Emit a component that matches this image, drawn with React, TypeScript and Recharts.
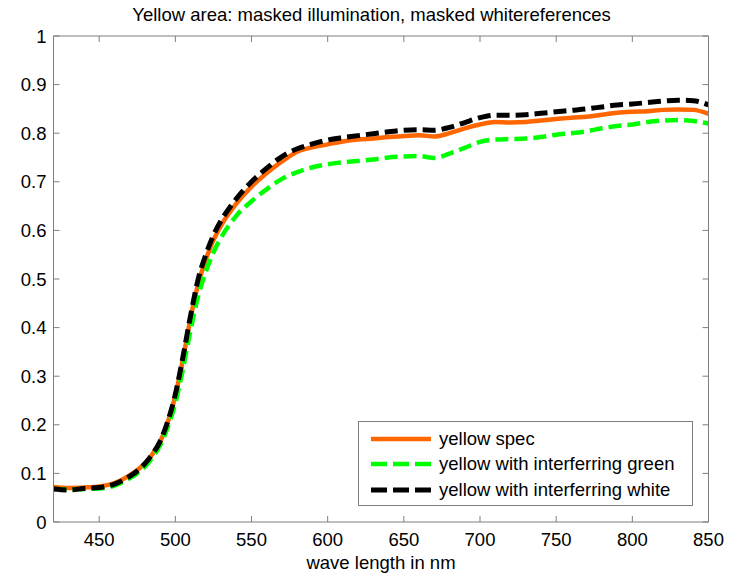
import { LineChart, Line, XAxis, YAxis } from 'recharts';

const wavelengths = [
  420, 430, 440, 450, 460, 470, 475, 480, 485, 490, 495, 500, 505, 510, 515, 520, 525, 530, 540, 550,
  560, 570, 580, 590, 600, 610, 620, 630, 640, 650, 660, 670, 680, 690, 700, 710, 720, 730, 740, 750,
  760, 770, 780, 790, 800, 810, 820, 830, 840, 850,
];

const yellowSpec = [
  0.072, 0.07, 0.071, 0.073, 0.08, 0.096, 0.107, 0.121, 0.14, 0.165, 0.205, 0.26, 0.335, 0.42, 0.49, 0.54, 0.58, 0.61, 0.655, 0.69,
  0.718, 0.742, 0.762, 0.771, 0.777, 0.783, 0.787, 0.789, 0.792, 0.794, 0.796, 0.793, 0.8, 0.81, 0.818, 0.823, 0.822, 0.823, 0.826, 0.829,
  0.832, 0.834, 0.838, 0.842, 0.844, 0.845, 0.848, 0.849, 0.848, 0.84,
];

const withGreen = [
  0.068, 0.067, 0.068, 0.069, 0.075, 0.09, 0.1, 0.114, 0.133, 0.158, 0.195, 0.245, 0.315, 0.395, 0.465, 0.515, 0.555, 0.585, 0.63, 0.66,
  0.685, 0.706, 0.72, 0.73, 0.736, 0.74, 0.743, 0.746, 0.75, 0.752, 0.753, 0.749, 0.758, 0.77, 0.782, 0.787, 0.788, 0.789, 0.792, 0.797,
  0.8, 0.804, 0.81, 0.815, 0.818, 0.823, 0.826, 0.827, 0.825, 0.82,
];

const withWhite = [
  0.068, 0.066, 0.069, 0.071, 0.078, 0.094, 0.105, 0.12, 0.14, 0.166, 0.207, 0.263, 0.34, 0.425, 0.5, 0.55, 0.59, 0.62, 0.665, 0.7,
  0.728, 0.752, 0.768, 0.778, 0.786, 0.791, 0.795, 0.799, 0.803, 0.806, 0.807, 0.806, 0.812, 0.822, 0.832, 0.837, 0.837, 0.838, 0.841, 0.844,
  0.847, 0.85, 0.854, 0.858, 0.86, 0.863, 0.866, 0.868, 0.867, 0.858,
];

const xTicks = [450, 500, 550, 600, 650, 700, 750, 800, 850];
const yTicks = [0, 0.1, 0.2, 0.3, 0.4, 0.5, 0.6, 0.7, 0.8, 0.9, 1];
const yTickLabels = ['0', '0.1', '0.2', '0.3', '0.4', '0.5', '0.6', '0.7', '0.8', '0.9', '1'];

const data = wavelengths.map((w, i) => ({
  w,
  spec: yellowSpec[i],
  green: withGreen[i],
  white: withWhite[i],
}));

const FONT = '"Liberation Sans", Arial, sans-serif';
const FS = 18.5;
const AXIS = '#7f7f7f';
const TICK_LEN = 6;

// last series sits on the top/right axes so those get drawn as the box
const series = [
  { key: 'spec', name: 'yellow spec', color: '#ff6600', width: 4.5, dash: undefined, legendDash: undefined, xId: 0, yId: 0 },
  { key: 'green', name: 'yellow with interferring green', color: '#00ff00', width: 4.5, dash: '13 6', legendDash: '16 6', xId: 0, yId: 0 },
  { key: 'white', name: 'yellow with interferring white', color: '#000000', width: 5, dash: '13 6', legendDash: '16 6', xId: 'top', yId: 'right' },
];

const BottomTick = ({ x, y, payload }: any) => (
  <g>
    <line x1={x} x2={x} y1={y} y2={y - TICK_LEN} stroke={AXIS} />
    <text x={x} y={y + 23.5} textAnchor='middle' fontSize={FS} fill='#000' fontFamily={FONT}>
      {payload.value}
    </text>
  </g>
);

const TopTick = ({ x, y }: any) => <line x1={x} x2={x} y1={y} y2={y + TICK_LEN} stroke={AXIS} />;

const LeftTick = ({ x, y, payload }: any) => (
  <g>
    <line x1={x} x2={x + TICK_LEN} y1={y} y2={y} stroke={AXIS} />
    <text x={x - 7} y={y + 6.6} textAnchor='end' fontSize={FS} fill='#000' fontFamily={FONT}>
      {yTickLabels[yTicks.indexOf(payload.value)] ?? payload.value}
    </text>
  </g>
);

const RightTick = ({ x, y }: any) => <line x1={x} x2={x - TICK_LEN} y1={y} y2={y} stroke={AXIS} />;

const LegendBox = () => (
  <div
    style={{
      position: 'absolute',
      left: 358,
      top: 421,
      border: `1px solid ${AXIS}`,
      background: '#fff',
      width: 333,
      height: 79,
      boxSizing: 'content-box',
      fontFamily: FONT,
      fontSize: FS,
      paddingTop: 4,
    }}
  >
    {series.map((s) => (
      <div key={s.key} style={{ display: 'flex', alignItems: 'center', height: 25.5, whiteSpace: 'nowrap' }}>
        <svg width={80} height={10} style={{ flex: 'none' }}>
          <line
            x1={12}
            x2={72}
            y1={5}
            y2={5}
            stroke={s.color}
            strokeWidth={s.width}
            strokeDasharray={s.legendDash}
          />
        </svg>
        <span>{s.name}</span>
      </div>
    ))}
  </div>
);

export default function App() {
  return (
    <div style={{ position: 'absolute', left: 0, top: 0, width: 731, height: 574, background: '#fff' }}>
      <div
        style={{
          position: 'absolute',
          left: 0,
          width: 743,
          top: 4,
          textAlign: 'center',
          fontFamily: FONT,
          fontSize: FS,
          whiteSpace: 'nowrap',
        }}
      >
        Yellow area: masked illumination, masked whitereferences
      </div>
      <LineChart
        width={731}
        height={574}
        data={data}
        margin={{ top: 35, right: 21.5, bottom: 22, left: 0 }}
      >
        <XAxis
          dataKey='w'
          type='number'
          domain={[420, 850]}
          ticks={xTicks}
          stroke={AXIS}
          tickLine={false}
          tickSize={0}
          tickMargin={0}
          height={30}
          tick={<BottomTick />}
          allowDataOverflow
        />
        <XAxis
          xAxisId='top'
          orientation='top'
          dataKey='w'
          type='number'
          domain={[420, 850]}
          ticks={xTicks}
          stroke={AXIS}
          tickLine={false}
          tickSize={0}
          tickMargin={0}
          height={1}
          tick={<TopTick />}
          allowDataOverflow
        />
        <YAxis
          type='number'
          domain={[0, 1]}
          ticks={yTicks}
          stroke={AXIS}
          tickLine={false}
          tickSize={0}
          tickMargin={0}
          width={53.5}
          tick={<LeftTick />}
        />
        <YAxis
          yAxisId='right'
          orientation='right'
          type='number'
          domain={[0, 1]}
          ticks={yTicks}
          stroke={AXIS}
          tickLine={false}
          tickSize={0}
          tickMargin={0}
          width={1}
          tick={<RightTick />}
        />
        {series.map((s) => (
          <Line
            key={s.key}
            xAxisId={s.xId}
            yAxisId={s.yId}
            type='monotone'
            dataKey={s.key}
            name={s.name}
            stroke={s.color}
            strokeWidth={s.width}
            strokeDasharray={s.dash}
            dot={false}
            activeDot={false}
            isAnimationActive={false}
          />
        ))}
      </LineChart>
      <LegendBox />
      <div
        style={{
          position: 'absolute',
          left: 53,
          width: 656,
          top: 552,
          textAlign: 'center',
          fontFamily: FONT,
          fontSize: FS,
          whiteSpace: 'nowrap',
        }}
      >
        wave length in nm
      </div>
    </div>
  );
}
